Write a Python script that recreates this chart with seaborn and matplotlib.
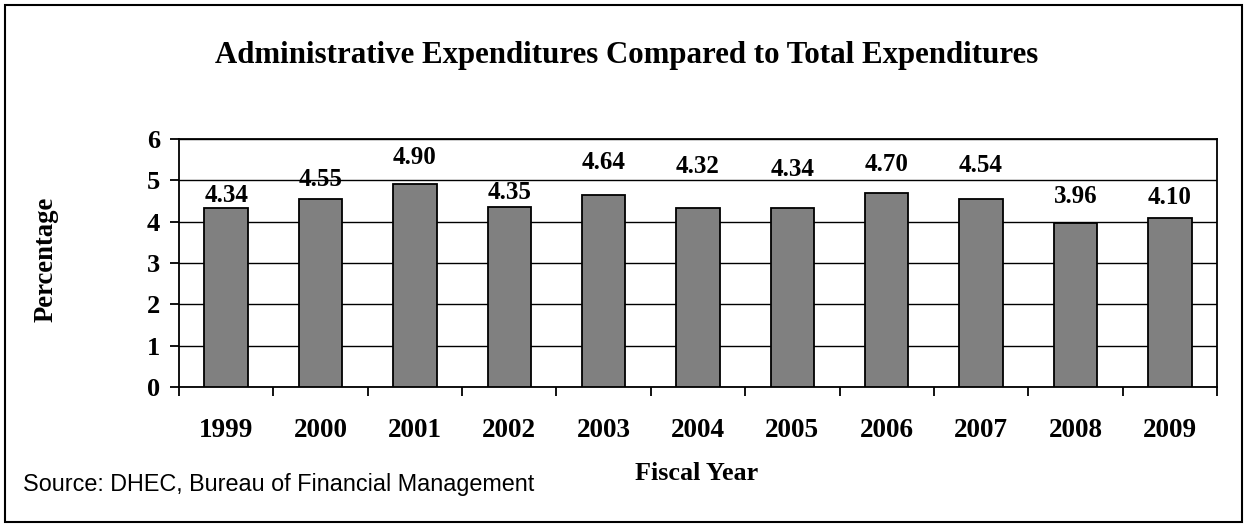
import matplotlib
matplotlib.use("Agg")
import matplotlib.pyplot as plt
import seaborn as sns
import pandas as pd
from matplotlib.patches import Rectangle
from matplotlib.ticker import FixedLocator

years = ["1999", "2000", "2001", "2002", "2003", "2004", "2005", "2006", "2007", "2008", "2009"]
percentages = [4.34, 4.55, 4.90, 4.35, 4.64, 4.32, 4.34, 4.70, 4.54, 3.96, 4.10]
value_labels = ["4.34", "4.55", "4.90", "4.35", "4.64", "4.32", "4.34", "4.70", "4.54", "3.96", "4.10"]
y_ticks = [0, 1, 2, 3, 4, 5, 6]
# label offsets above bar top (pixels), as placed in the original
label_offsets_px = [12, 19, 27, 15, 33, 42, 38, 28, 34, 27, 20]

sns.set_theme(style="white")
plt.rcParams["font.family"] = ["Liberation Serif", "DejaVu Serif"]

df = pd.DataFrame({"year": years, "pct": percentages})

fig = plt.figure(figsize=(12.48, 5.26), dpi=100)
ax = fig.add_axes([179 / 1248, 1 - 387 / 526, (1217 - 179) / 1248, (387 - 139) / 526])

sns.barplot(data=df, x="year", y="pct", ax=ax, color="#808080", saturation=1,
            edgecolor="black", linewidth=1.3, width=0.46, zorder=3)

ax.set_xlim(-0.5, len(years) - 0.5)
ax.set_ylim(0, 6)
ax.set_yticks(y_ticks)
ax.yaxis.grid(True, color="black", linewidth=1.0, zorder=0)
ax.set_axisbelow(True)
for s in ax.spines.values():
    s.set_color("black")
    s.set_linewidth(1.3)
    s.set_visible(True)

ax.tick_params(axis="y", which="major", left=True, direction="out", length=6.5, width=1.3,
               color="black", labelsize=19, pad=7)
ax.tick_params(axis="x", which="major", bottom=True, length=0, labelsize=19.5, pad=22)
ax.xaxis.set_minor_locator(FixedLocator([i - 0.5 for i in range(len(years) + 1)]))
ax.tick_params(axis="x", which="minor", bottom=True, direction="out", length=6.5, width=1.3, color="black")
for lab in ax.get_xticklabels() + ax.get_yticklabels():
    lab.set_fontweight("bold")
    lab.set_color("black")

ax.set_xlabel("")
ax.set_ylabel("")

for i, (v, t) in enumerate(zip(percentages, value_labels)):
    ax.annotate(t, xy=(i, v), xytext=(0, label_offsets_px[i]), textcoords="offset pixels",
                ha="center", va="center", fontsize=18, fontweight="bold", color="black", zorder=5)

fig.text(627 / 1248, 1 - 56 / 526, "Administrative Expenditures Compared to Total Expenditures",
         ha="center", va="center", fontsize=22.2, fontweight="bold", color="black")
fig.text(46 / 1248, 1 - 259 / 526, "Percentage", rotation=90, ha="center", va="center",
         fontsize=19.2, fontweight="bold", color="black")
fig.text(697 / 1248, 1 - 474 / 526, "Fiscal Year", ha="center", va="center",
         fontsize=18.8, fontweight="bold", color="black")
fig.text(23 / 1248, 1 - 484 / 526, "Source: DHEC, Bureau of Financial Management",
         ha="left", va="center", fontsize=16.8, color="black", family=["Liberation Sans", "DejaVu Sans"])

fig.patches.append(Rectangle((5 / 1248, 4 / 526), 1237 / 1248, 517 / 526, transform=fig.transFigure,
                             fill=False, edgecolor="black", linewidth=1.5))

fig.savefig("out.png", dpi=100, facecolor="white")
